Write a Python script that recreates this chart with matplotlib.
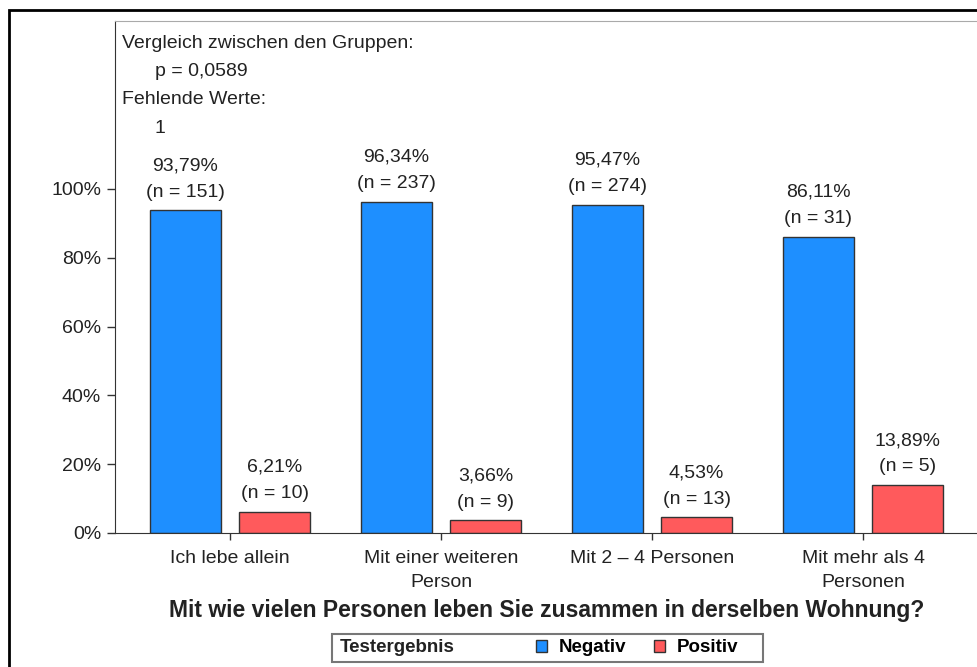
import matplotlib.pyplot as plt
import numpy as np
from matplotlib.patches import Rectangle

plt.rcParams['font.family'] = ['Liberation Sans', 'DejaVu Sans']

gruppen = ['Ich lebe allein', 'Mit einer weiteren\nPerson', 'Mit 2 – 4 Personen', 'Mit mehr als 4\nPersonen']
negativ_pct = [93.79, 96.34, 95.47, 86.11]
positiv_pct = [6.21, 3.66, 4.53, 13.89]
negativ_n = [151, 237, 274, 31]
positiv_n = [10, 9, 13, 5]
yticks = [0, 20, 40, 60, 80, 100]

azul = '#1E8FFF'
rojo = '#FF5A5C'
texto = '#222222'

fig = plt.figure(figsize=(9.78, 6.67), dpi=100)
ax = fig.add_axes([0.1176, 0.2009, 0.8824, 0.7676])

x = np.arange(len(gruppen))
ancho = 0.336
desp = 0.211

b1 = ax.bar(x - desp, negativ_pct, ancho, color=azul, edgecolor='#333333', linewidth=1, label='Negativ')
b2 = ax.bar(x + desp, positiv_pct, ancho, color=rojo, edgecolor='#333333', linewidth=1, label='Positiv')

def etiqueta(barras, pct, n):
    for b, p, k in zip(barras, pct, n):
        s = f'{p:.2f}%'.replace('.', ',') + f'\n(n = {k})'
        ax.annotate(s, (b.get_x() + b.get_width() / 2, b.get_height()),
                    xytext=(0, 7), textcoords='offset points', ha='center', va='bottom',
                    fontsize=14, color=texto, linespacing=1.72)

etiqueta(b1, negativ_pct, negativ_n)
etiqueta(b2, positiv_pct, positiv_n)

ax.set_xlim(-0.545, len(gruppen) - 1 + 0.545)
ax.set_ylim(0, 148.8)
ax.set_yticks(yticks)
ax.set_yticklabels([f'{v}%' for v in yticks])
ax.set_xticks(x)
ax.set_xticklabels(gruppen, linespacing=1.55)
ax.tick_params(axis='y', length=6, width=1, pad=4, labelsize=14, labelcolor=texto, color='#333333')
ax.tick_params(axis='x', length=5, width=1, pad=7, labelsize=14, labelcolor=texto, color='#333333')

for lado in ['left', 'bottom']:
    ax.spines[lado].set_color('#333333')
ax.spines['top'].set_color('#aaaaaa')
ax.spines['right'].set_visible(False)

ax.set_xlabel('Mit wie vielen Personen leben Sie zusammen in derselben Wohnung?',
              fontsize=16.5, fontweight='bold', color=texto, labelpad=6)

ax.text(0.008, 0.957, 'Vergleich zwischen den Gruppen:', transform=ax.transAxes, fontsize=14, va='center', color=texto)
ax.text(0.046, 0.902, 'p = 0,0589', transform=ax.transAxes, fontsize=14, va='center', color=texto)
ax.text(0.008, 0.846, 'Fehlende Werte:', transform=ax.transAxes, fontsize=14, va='center', color=texto)
ax.text(0.046, 0.791, '1', transform=ax.transAxes, fontsize=14, va='center', color=texto)

# Legendenrahmen
W, H = 978, 667
fig.patches.append(Rectangle((332 / W, 1 - 662 / H), (763 - 332) / W, 28 / H, transform=fig.transFigure,
                             fill=False, edgecolor='#777777', linewidth=1.5))
fig.text(340 / W, 1 - 648 / H, 'Testergebnis', fontsize=13.5, fontweight='bold', va='center', color=texto)
fig.legend(handles=[b1, b2], loc='center left', bbox_to_anchor=(536 / W, 1 - 648 / H), ncol=2,
           frameon=False, prop={'size': 13.5, 'weight': 'bold'}, handlelength=0.6, handleheight=0.6,
           handletextpad=0.6, columnspacing=1.5, borderpad=0, borderaxespad=0)

# aeusserer Rahmen
fig.patches.append(Rectangle((9 / W, -0.05), 1.2, 1 - 10 / H + 0.05, transform=fig.transFigure,
                             fill=False, edgecolor='black', linewidth=2))

fig.savefig('out.png', dpi=100)
